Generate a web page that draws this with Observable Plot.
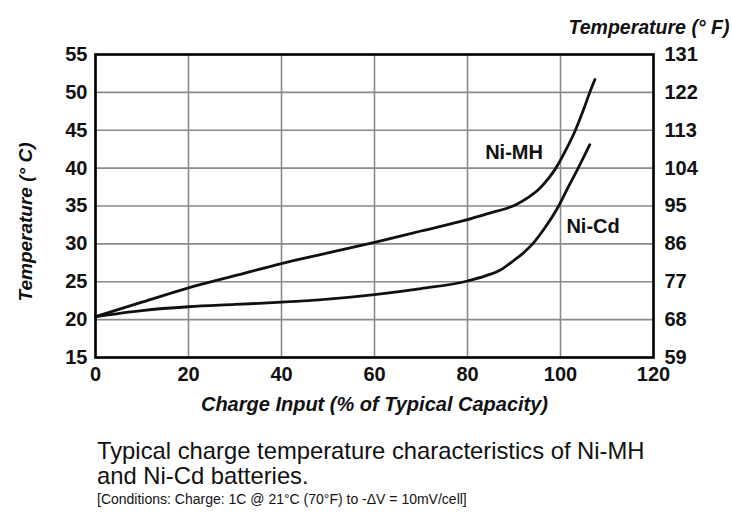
<!DOCTYPE html>
<html>
<head>
<meta charset="utf-8">
<script src="https://cdn.jsdelivr.net/npm/d3@7"></script>
<script src="https://cdn.jsdelivr.net/npm/@observablehq/plot@0.6"></script>
<style>
  html, body { margin: 0; padding: 0; background: #fff; }
  body { width: 732px; height: 517px; overflow: hidden; font-family: "Liberation Sans", Arial, sans-serif; }
  #caption { position: absolute; left: 97px; top: 438px; color: #111; }
  #caption .main { font-size: 23.8px; line-height: 25px; }
  #caption .cond { font-size: 14px; line-height: 23px; }
</style>
</head>
<body>
<div id="chart"></div>
<div id="caption">
  <div class="main">Typical charge temperature characteristics of Ni-MH<br>and Ni-Cd batteries.</div>
  <div class="cond">[Conditions: Charge: 1C @ 21°C (70°F) to -ΔV = 10mV/cell]</div>
</div>
<script>
// Ni-MH curve: charge input (%) vs temperature (°C)
const chargeMH = [0, 10, 20, 30, 40, 50, 60, 70, 80, 85, 88, 90.5, 93, 95.5, 97.5, 99, 101, 103.2, 105, 106.3, 107.4];
const tempMH   = [20.4, 22.3, 24.2, 25.8, 27.4, 28.8, 30.2, 31.7, 33.2, 34.1, 34.6, 35.2, 36.1, 37.3, 38.7, 40.0, 42.2, 45.0, 47.8, 50.0, 51.7];
// Ni-Cd curve
const chargeCd = [0, 10, 20, 30, 40, 50, 60, 70, 80, 84, 87.5, 89.5, 92, 94, 96.5, 99.6, 101.5, 103.8, 106.3];
const tempCd   = [20.4, 21.2, 21.7, 22.0, 22.3, 22.7, 23.3, 24.1, 25.1, 25.8, 26.7, 27.6, 28.8, 30.0, 32.0, 35.0, 37.3, 40.0, 43.1];

const xTicks = [0, 20, 40, 60, 80, 100, 120];
const celsiusTicks = [15, 20, 25, 30, 35, 40, 45, 50, 55];
const fahrenheitTicks = [59, 68, 77, 86, 95, 104, 113, 122, 131];

const seriesLabels = ["Ni-MH", "Ni-Cd"];
const labelX = [90, 107];
const labelY = [42, 32.3];

const xTitle = "Charge Input (% of Typical Capacity)";
const yTitleLeft = "Temperature (° C)";
const yTitleRight = "Temperature (° F)";

const mh = chargeMH.map((c, i) => ({x: c, y: tempMH[i]}));
const cd = chargeCd.map((c, i) => ({x: c, y: tempCd[i]}));
const labels = seriesLabels.map((s, i) => ({x: labelX[i], y: labelY[i], t: s}));

const font = '"Liberation Sans", Arial, sans-serif';

const chart = Plot.plot({
  width: 732,
  height: 425,
  marginLeft: 95,
  marginRight: 79,
  marginTop: 54,
  marginBottom: 68,
  style: {fontFamily: font, fontSize: "20px", fontWeight: "bold", color: "#111", background: "#fff"},
  x: {domain: [0, 120], ticks: xTicks},
  y: {domain: [15, 55], ticks: celsiusTicks},
  marks: [
    Plot.gridX(xTicks, {stroke: "#8a8a8a", strokeOpacity: 1, strokeWidth: 1.6}),
    Plot.gridY(celsiusTicks, {stroke: "#8a8a8a", strokeOpacity: 1, strokeWidth: 1.6}),
    Plot.axisX({ticks: xTicks, tickSize: 0, tickPadding: 9, label: null}),
    Plot.axisY({ticks: celsiusTicks, anchor: "left", tickSize: 0, tickPadding: 8, label: null}),
    Plot.axisY({ticks: celsiusTicks, anchor: "right", tickSize: 0, tickPadding: 11, label: null,
      tickFormat: d => fahrenheitTicks[celsiusTicks.indexOf(d)]}),
    Plot.line(mh, {x: "x", y: "y", curve: "monotone-x", stroke: "#111", strokeWidth: 2.8}),
    Plot.line(cd, {x: "x", y: "y", curve: "monotone-x", stroke: "#111", strokeWidth: 2.8}),
    Plot.text(labels, {x: "x", y: "y", text: "t", fontSize: 20, fontWeight: "bold", fill: "#111"}),
    Plot.frame({stroke: "#000", strokeWidth: 2.6}),
    Plot.text([xTitle], {frameAnchor: "bottom", dy: 53, fontSize: 20, fontWeight: "bold", fontStyle: "italic", fill: "#111"}),
    Plot.text([yTitleLeft], {frameAnchor: "left", textAnchor: "middle", dx: -70, dy: 16, rotate: -90, fontSize: 19, fontWeight: "bold", fontStyle: "italic", fill: "#111"}),
    Plot.text([yTitleRight], {frameAnchor: "top-right", dx: 76, dy: -34, textAnchor: "end", fontSize: 19.5, fontWeight: "bold", fontStyle: "italic", fill: "#111"})
  ]
});
document.getElementById("chart").appendChild(chart);
</script>
</body>
</html>
